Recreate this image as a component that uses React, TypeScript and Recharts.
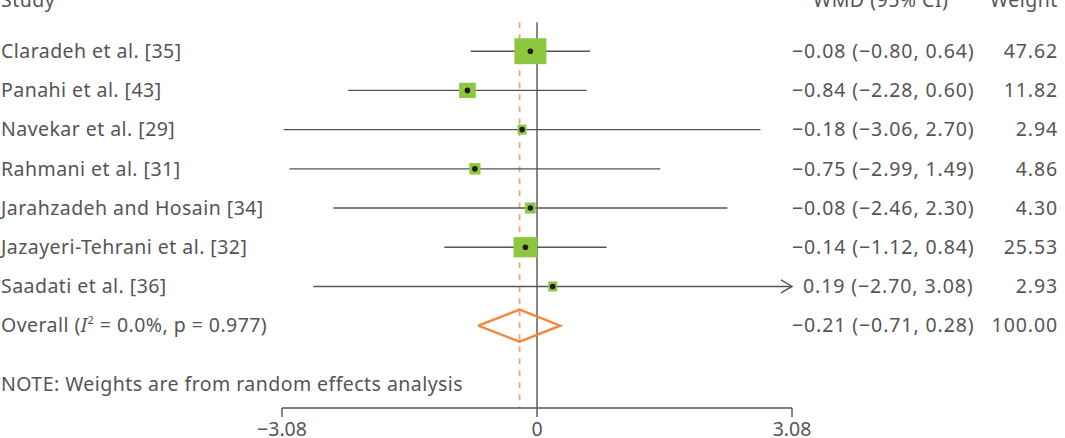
import {
  ComposedChart,
  Scatter,
  XAxis,
  YAxis,
  ReferenceLine,
} from 'recharts';

const studies = [
  'Claradeh et al. [35]',
  'Panahi et al. [43]',
  'Navekar et al. [29]',
  'Rahmani et al. [31]',
  'Jarahzadeh and Hosain [34]',
  'Jazayeri-Tehrani et al. [32]',
  'Saadati et al. [36]',
];
const wmd = [-0.08, -0.84, -0.18, -0.75, -0.08, -0.14, 0.19];
const ciLow = [-0.8, -2.28, -3.06, -2.99, -2.46, -1.12, -2.7];
const ciHigh = [0.64, 0.6, 2.7, 1.49, 2.3, 0.84, 3.08];
const weights = [47.62, 11.82, 2.94, 4.86, 4.3, 25.53, 2.93];

const overallWmd = -0.21;
const overallLow = -0.71;
const overallHigh = 0.28;
const overallWeight = 100.0;

const axisTicks = [-3.08, 0, 3.08];
const noteText = 'NOTE: Weights are from random effects analysis';

const TEXT = '#555';
const LINE = '#555';
const GREEN = '#8dc63f';
const ORANGE = '#f08a3c';
const FONT = '"Noto Sans", sans-serif';
const FS = 19.5;

const xMin = axisTicks[0];
const xMax = axisTicks[axisTicks.length - 1];
const overallRow = studies.length + 1;
const noteRow = overallRow + 1.5;
const yDomain = [0, 10.1];

const fmt = (v: number) => (v < 0 ? '\u2212' : '') + Math.abs(v).toFixed(2);

const studyPoints = studies.map((s, i) => ({ x: wmd[i], y: i + 1, w: weights[i] }));
const diamond = [
  { x: overallLow, y: overallRow },
  { x: overallWmd, y: overallRow - 0.41 },
  { x: overallHigh, y: overallRow },
  { x: overallWmd, y: overallRow + 0.41 },
  { x: overallLow, y: overallRow },
];
const rowTicks = [...studies.map((_, i) => i + 1), overallRow, noteRow];

// square size grows with sqrt of weight
const StudyBox = (props: any) => {
  const { cx, cy, payload } = props;
  const s = Math.sqrt(payload.w);
  const w = 1.4 + 4.43 * s;
  const h = 4.7 + 3.08 * s;
  return (
    <g>
      <rect x={cx - w / 2} y={cy - h / 2} width={w} height={h} fill={GREEN} />
      <circle cx={cx} cy={cy} r={2.8} fill="#1c1c1c" />
    </g>
  );
};

const CiLine = (props: any) => {
  const { x1, y1, x2, y2, arrow } = props;
  return (
    <g>
      <line x1={x1} y1={y1} x2={x2} y2={y2} stroke={LINE} strokeWidth={1.4} />
      {arrow && (
        <polyline
          points={`${x2 - 11},${y2 - 6.5} ${x2},${y2} ${x2 - 11},${y2 + 6.5}`}
          fill="none"
          stroke={LINE}
          strokeWidth={1.4}
        />
      )}
    </g>
  );
};

const LeftTick = (props: any) => {
  const { y, payload } = props;
  const v = payload.value;
  if (v === overallRow) {
    return (
      <text x={1} y={y} dy="0.35em" fill={TEXT} fontSize={FS} fontFamily={FONT} letterSpacing={0.45}>
        Overall (<tspan fontStyle="italic">I</tspan>
        <tspan fontSize={11} dy={-8}>2</tspan>
        <tspan dy={8}> = 0.0%, p = 0.977)</tspan>
      </text>
    );
  }
  const label = v === noteRow ? noteText : studies[v - 1];
  return (
    <text x={1} y={y} dy="0.35em" fill={TEXT} fontSize={FS} fontFamily={FONT} letterSpacing={0.45}>
      {label}
    </text>
  );
};

const RightTick = (props: any) => {
  const { y, payload } = props;
  const v = payload.value;
  if (v > overallRow) return <g />;
  const i = v - 1;
  const est = v === overallRow ? overallWmd : wmd[i];
  const lo = v === overallRow ? overallLow : ciLow[i];
  const hi = v === overallRow ? overallHigh : ciHigh[i];
  const wt = v === overallRow ? overallWeight : weights[i];
  return (
    <g fill={TEXT} fontSize={FS} fontFamily={FONT} letterSpacing={0.9}>
      <text x={est < 0 ? 792 : 803} y={y} dy="0.35em">
        {`${fmt(est)} (${fmt(lo)}, ${fmt(hi)})`}
      </text>
      <text x={1058} y={y} dy="0.35em" textAnchor="end">
        {wt.toFixed(2)}
      </text>
    </g>
  );
};

const headStyle = {
  position: 'absolute' as const,
  top: -14,
  fontFamily: FONT,
  fontSize: FS,
  color: TEXT,
  letterSpacing: 0.5,
  whiteSpace: 'nowrap' as const,
};

export default function App() {
  return (
    <div style={{ position: 'relative', width: 1065, height: 438, overflow: 'hidden', background: '#fff' }}>
      <style>{'body{margin:0}'}</style>
      <div style={{ ...headStyle, left: 1 }}>Study</div>
      <div style={{ ...headStyle, left: 813 }}>WMD (95% CI)</div>
      <div style={{ ...headStyle, left: 990 }}>Weight %</div>
      <ComposedChart width={1065} height={438} margin={{ top: 12, right: 0, bottom: 0, left: 0 }}>
        <XAxis
          type="number"
          dataKey="x"
          domain={[xMin, xMax]}
          ticks={axisTicks}
          tickFormatter={(v: number) => (v === 0 ? '0' : fmt(v))}
          axisLine={{ stroke: LINE, strokeWidth: 1.4 }}
          tickLine={{ stroke: LINE, strokeWidth: 1.4 }}
          tickSize={9}
          tickMargin={5}
          tick={{ fill: TEXT, fontSize: FS, fontFamily: FONT }}
          height={30}
          allowDataOverflow
        />
        <YAxis
          yAxisId="l"
          type="number"
          dataKey="y"
          domain={yDomain}
          reversed
          ticks={rowTicks}
          interval={0}
          width={282}
          axisLine={false}
          tickLine={false}
          tick={<LeftTick />}
          allowDataOverflow
        />
        <YAxis
          yAxisId="r"
          orientation="right"
          type="number"
          dataKey="y"
          domain={yDomain}
          reversed
          ticks={rowTicks}
          interval={0}
          width={273}
          axisLine={false}
          tickLine={false}
          tick={<RightTick />}
          allowDataOverflow
        />
        <ReferenceLine
          yAxisId="l"
          segment={[{ x: overallWmd, y: 0.26 }, { x: overallWmd, y: yDomain[1] }]}
          stroke="#f5a46c"
          strokeWidth={1.7}
          strokeDasharray="6 6"
        />
        <ReferenceLine
          yAxisId="l"
          segment={[{ x: 0, y: 0.26 }, { x: 0, y: yDomain[1] }]}
          stroke={LINE}
          strokeWidth={1.4}
        />
        {studies.map((s, i) => (
          <ReferenceLine
            key={s}
            yAxisId="l"
            segment={[{ x: ciLow[i], y: i + 1 }, { x: ciHigh[i], y: i + 1 }]}
            ifOverflow="extendDomain"
            shape={(p: any) => <CiLine {...p} arrow={ciHigh[i] >= xMax} />}
          />
        ))}
        <Scatter yAxisId="l" data={studyPoints} shape={<StudyBox />} isAnimationActive={false} />
        <Scatter
          yAxisId="r"
          data={diamond}
          line={{ stroke: ORANGE, strokeWidth: 2.5 }}
          lineType="joint"
          shape={() => <g />}
          isAnimationActive={false}
        />
      </ComposedChart>
    </div>
  );
}
